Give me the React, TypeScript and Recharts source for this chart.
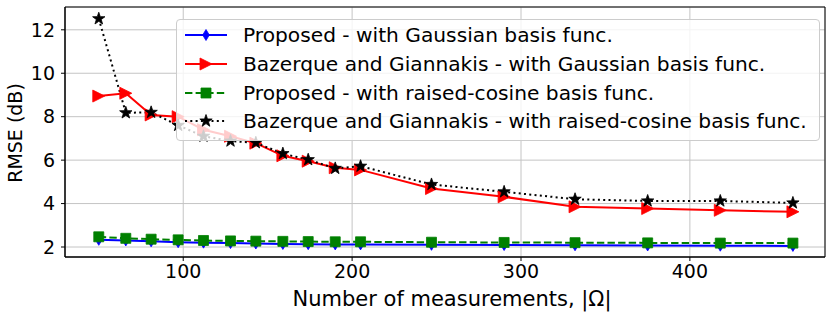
import { LineChart, Line, XAxis, YAxis, CartesianGrid, ReferenceArea } from "recharts";

const measurements = [50, 66, 81, 97, 112, 128, 143, 159, 174, 190, 205, 247, 290, 332, 375, 418, 461];
const proposedGauss = [2.33, 2.3, 2.26, 2.22, 2.2, 2.18, 2.16, 2.14, 2.13, 2.12, 2.12, 2.1, 2.09, 2.08, 2.07, 2.06, 2.05];
const bgGauss = [8.95, 9.08, 8.08, 8.0, 7.4, 7.1, 6.78, 6.2, 5.95, 5.65, 5.55, 4.69, 4.31, 3.85, 3.77, 3.69, 3.62];
const proposedCos = [2.47, 2.4, 2.36, 2.33, 2.3, 2.28, 2.27, 2.26, 2.25, 2.24, 2.24, 2.22, 2.21, 2.2, 2.19, 2.18, 2.18];
const bgCos = [12.51, 8.18, 8.2, 7.6, 7.1, 6.88, 6.8, 6.3, 6.02, 5.62, 5.72, 4.88, 4.54, 4.2, 4.12, 4.12, 4.03];

const xTicks = [100, 200, 300, 400];
const yTicks = [2, 4, 6, 8, 10, 12];

const FONT = "'DejaVu Sans', sans-serif";

const data = measurements.map((m, i) => ({
  m,
  propGauss: proposedGauss[i],
  bgGauss: bgGauss[i],
  propCos: proposedCos[i],
  bgCos: bgCos[i],
}));

type MarkerKind = "diamond" | "triangle" | "square" | "star";

function markerPath(kind: MarkerKind, cx: number, cy: number) {
  if (kind === "diamond") {
    return `M${cx},${cy - 5.5}L${cx + 3.3},${cy}L${cx},${cy + 5.5}L${cx - 3.3},${cy}Z`;
  }
  if (kind === "triangle") {
    return `M${cx + 6},${cy}L${cx - 6},${cy - 6}L${cx - 6},${cy + 6}Z`;
  }
  if (kind === "square") {
    return `M${cx - 5},${cy - 5}h10v10h-10Z`;
  }
  // five-point star
  let d = "";
  for (let k = 0; k < 10; k++) {
    const r = k % 2 === 0 ? 6.5 : 2.6;
    const a = -Math.PI / 2 + (k * Math.PI) / 5;
    d += `${k === 0 ? "M" : "L"}${(cx + r * Math.cos(a)).toFixed(2)},${(cy + r * Math.sin(a)).toFixed(2)}`;
  }
  return d + "Z";
}

function makeDot(kind: MarkerKind, color: string) {
  return (props: any) => {
    const { cx, cy, index } = props;
    if (cx == null || cy == null) return <g key={index} />;
    return <path key={index} d={markerPath(kind, cx, cy)} fill={color} stroke={color} strokeWidth={0.8} />;
  };
}

const series = [
  { key: "propGauss", name: "Proposed - with Gaussian basis func.", color: "#0000ff", marker: "diamond" as MarkerKind, dash: undefined },
  { key: "bgGauss", name: "Bazerque and Giannakis - with Gaussian basis func.", color: "#ff0000", marker: "triangle" as MarkerKind, dash: undefined },
  { key: "propCos", name: "Proposed - with raised-cosine basis func.", color: "#008000", marker: "square" as MarkerKind, dash: "7.4 3.2" },
  { key: "bgCos", name: "Bazerque and Giannakis - with raised-cosine basis func.", color: "#000000", marker: "star" as MarkerKind, dash: "2 3.3" },
];

function LegendBox() {
  return (
    <div
      style={{
        position: "absolute",
        left: 176,
        top: 19,
        width: 644,
        height: 122,
        boxSizing: "border-box",
        background: "rgba(255,255,255,0.8)",
        border: "1px solid #cccccc",
        borderRadius: 4,
        fontFamily: FONT,
        fontSize: 20.2,
        color: "#000",
      }}
    >
      {series.map((s, i) => (
        <div key={s.key} style={{ position: "absolute", left: 0, top: 1 + i * 28.8, height: 28, display: "flex", alignItems: "center" }}>
          <svg width={60} height={28} style={{ display: "block" }}>
            <line x1={8} x2={50} y1={14} y2={14} stroke={s.color} strokeWidth={2} strokeDasharray={s.dash} />
            <path d={markerPath(s.marker, 29, 14)} fill={s.color} stroke={s.color} strokeWidth={0.8} />
          </svg>
          <span style={{ marginLeft: 6, whiteSpace: "nowrap" }}>{s.name}</span>
        </div>
      ))}
    </div>
  );
}

export default function App() {
  return (
    <div style={{ position: "absolute", left: 0, top: 0, width: 830, height: 312, background: "#fff" }}>
      <LineChart width={830} height={312} data={data} margin={{ top: 7, right: 5, bottom: 25, left: 0 }}>
        <CartesianGrid stroke="#c4c4c4" strokeWidth={1} />
        <XAxis
          dataKey="m"
          type="number"
          domain={[30, 480]}
          ticks={xTicks}
          height={30}
          tickSize={4}
          tickMargin={4}
          axisLine={{ stroke: "#000" }}
          tickLine={{ stroke: "#000" }}
          tick={{ fill: "#000", fontSize: 19, fontFamily: FONT }}
        />
        <YAxis
          type="number"
          domain={[1.54, 13.05]}
          ticks={yTicks}
          width={65}
          tickSize={4}
          tickMargin={6}
          axisLine={{ stroke: "#000" }}
          tickLine={{ stroke: "#000" }}
          tick={{ fill: "#000", fontSize: 19, fontFamily: FONT }}
          allowDataOverflow
        />
        <ReferenceArea x1={30} x2={480} y1={1.54} y2={13.05} fill="none" stroke="#000" strokeWidth={1} />
        {series.map((s) => (
          <Line
            key={s.key}
            dataKey={s.key}
            stroke={s.color}
            strokeWidth={2}
            strokeDasharray={s.dash}
            dot={makeDot(s.marker, s.color)}
            activeDot={false}
            isAnimationActive={false}
            type="linear"
          />
        ))}
      </LineChart>
      <LegendBox />
      <div
        style={{
          position: "absolute",
          left: 452,
          top: 299,
          transform: "translate(-50%, -50%)",
          fontFamily: FONT,
          fontSize: 21,
          whiteSpace: "nowrap",
        }}
      >
        Number of measurements, |Ω|
      </div>
      <div
        style={{
          position: "absolute",
          left: 15,
          top: 133,
          transform: "translate(-50%, -50%) rotate(-90deg)",
          fontFamily: FONT,
          fontSize: 19,
          whiteSpace: "nowrap",
        }}
      >
        RMSE (dB)
      </div>
    </div>
  );
}
